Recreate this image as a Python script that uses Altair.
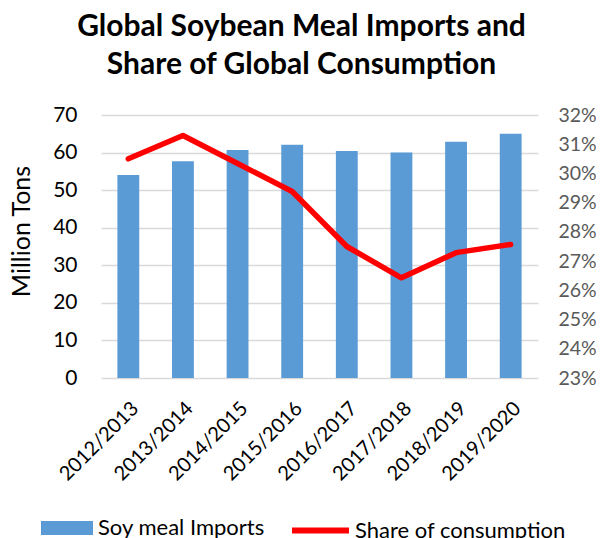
import altair as alt
import pandas as pd

years = ["2012/2013", "2013/2014", "2014/2015", "2015/2016",
         "2016/2017", "2017/2018", "2018/2019", "2019/2020"]
imports = [54.0, 57.7, 60.7, 62.1, 60.4, 60.0, 62.9, 65.0]
share = [0.3050, 0.3130, 0.3034, 0.2938, 0.2750, 0.2643, 0.2729, 0.2757]
left_ticks = [0, 10, 20, 30, 40, 50, 60, 70]
right_ticks = [0.23, 0.24, 0.25, 0.26, 0.27, 0.28, 0.29, 0.30, 0.31, 0.32]
series = ["Soy meal Imports", "Share of consumption"]
title_lines = ["Global Soybean Meal Imports and", "Share of Global Consumption"]

df = pd.DataFrame({"year": years, "imports": imports, "share": share,
                   "s_bar": [series[0]] * len(years), "s_line": [series[1]] * len(years)})

FONT = "Lato"

x = alt.X(
    "year:N", sort=years,
    scale=alt.Scale(paddingInner=0.6, paddingOuter=0.3),
    axis=alt.Axis(title=None, labelAngle=-45, labelFontSize=20, labelColor="#000000",
                  labelPadding=20, labelFont=FONT, domain=False, ticks=False),
)

bars = alt.Chart(df).mark_bar().encode(
    x=x,
    y=alt.Y("imports:Q", scale=alt.Scale(domain=[0, 70], nice=False),
            axis=alt.Axis(values=left_ticks, title="Million Tons", grid=True,
                          gridColor="#d9d9d9", gridWidth=1.3, domain=False, ticks=False,
                          labelFontSize=21, labelColor="#000000", labelFont=FONT,
                          labelPadding=24, titleFont=FONT, titleFontSize=25,
                          titleFontWeight="normal", titleColor="#000000",
                          titleAngle=-90, titleX=-72, titleY=116,
                          titleAlign="center", titleBaseline="alphabetic")),
    fill=alt.Fill("s_bar:N", scale=alt.Scale(domain=[series[0]], range=["#5b9bd5"]),
                  legend=alt.Legend(title=None, orient="none", legendX=-60, legendY=387,
                                    symbolType="M-1,-0.27H1V0.27H-1Z", symbolSize=2704,
                                    symbolStrokeWidth=0, symbolOpacity=1,
                                    labelFontSize=22, labelFont=FONT, labelColor="#000000",
                                    labelOffset=5, labelLimit=0)),
)

line = alt.Chart(df).mark_line(strokeWidth=5.5, strokeJoin="round", strokeCap="round").encode(
    x=x,
    y=alt.Y("share:Q", scale=alt.Scale(domain=[0.23, 0.32], nice=False),
            axis=alt.Axis(orient="right", format=".0%", values=right_ticks, grid=False,
                          title=None, domain=False, ticks=False, labelFontSize=19.5,
                          labelColor="#595959", labelFont=FONT, labelPadding=20)),
    stroke=alt.Stroke("s_line:N", scale=alt.Scale(domain=[series[1]], range=["#ff0000"]),
                      legend=alt.Legend(title=None, orient="none", legendX=188, legendY=384,
                                        symbolType="stroke", symbolSize=3249,
                                        symbolStrokeWidth=6, labelFontSize=22,
                                        labelFont=FONT, labelColor="#000000",
                                        labelOffset=3, labelLimit=0)),
)

chart = alt.layer(bars, line).resolve_scale(y="independent").properties(
    width=437, height=263,
    autosize=alt.AutoSizeParams(type="none"),
    padding={"left": 93, "top": 107, "right": 58, "bottom": 160},
    title=alt.Title(title_lines, font=FONT, fontSize=30, fontWeight="bold", color="#000000",
                    anchor="middle", dx=-18, lineHeight=38, offset=24),
).configure_view(stroke=None)

chart.save("out.html", embed_options={"renderer": "svg", "actions": False})
